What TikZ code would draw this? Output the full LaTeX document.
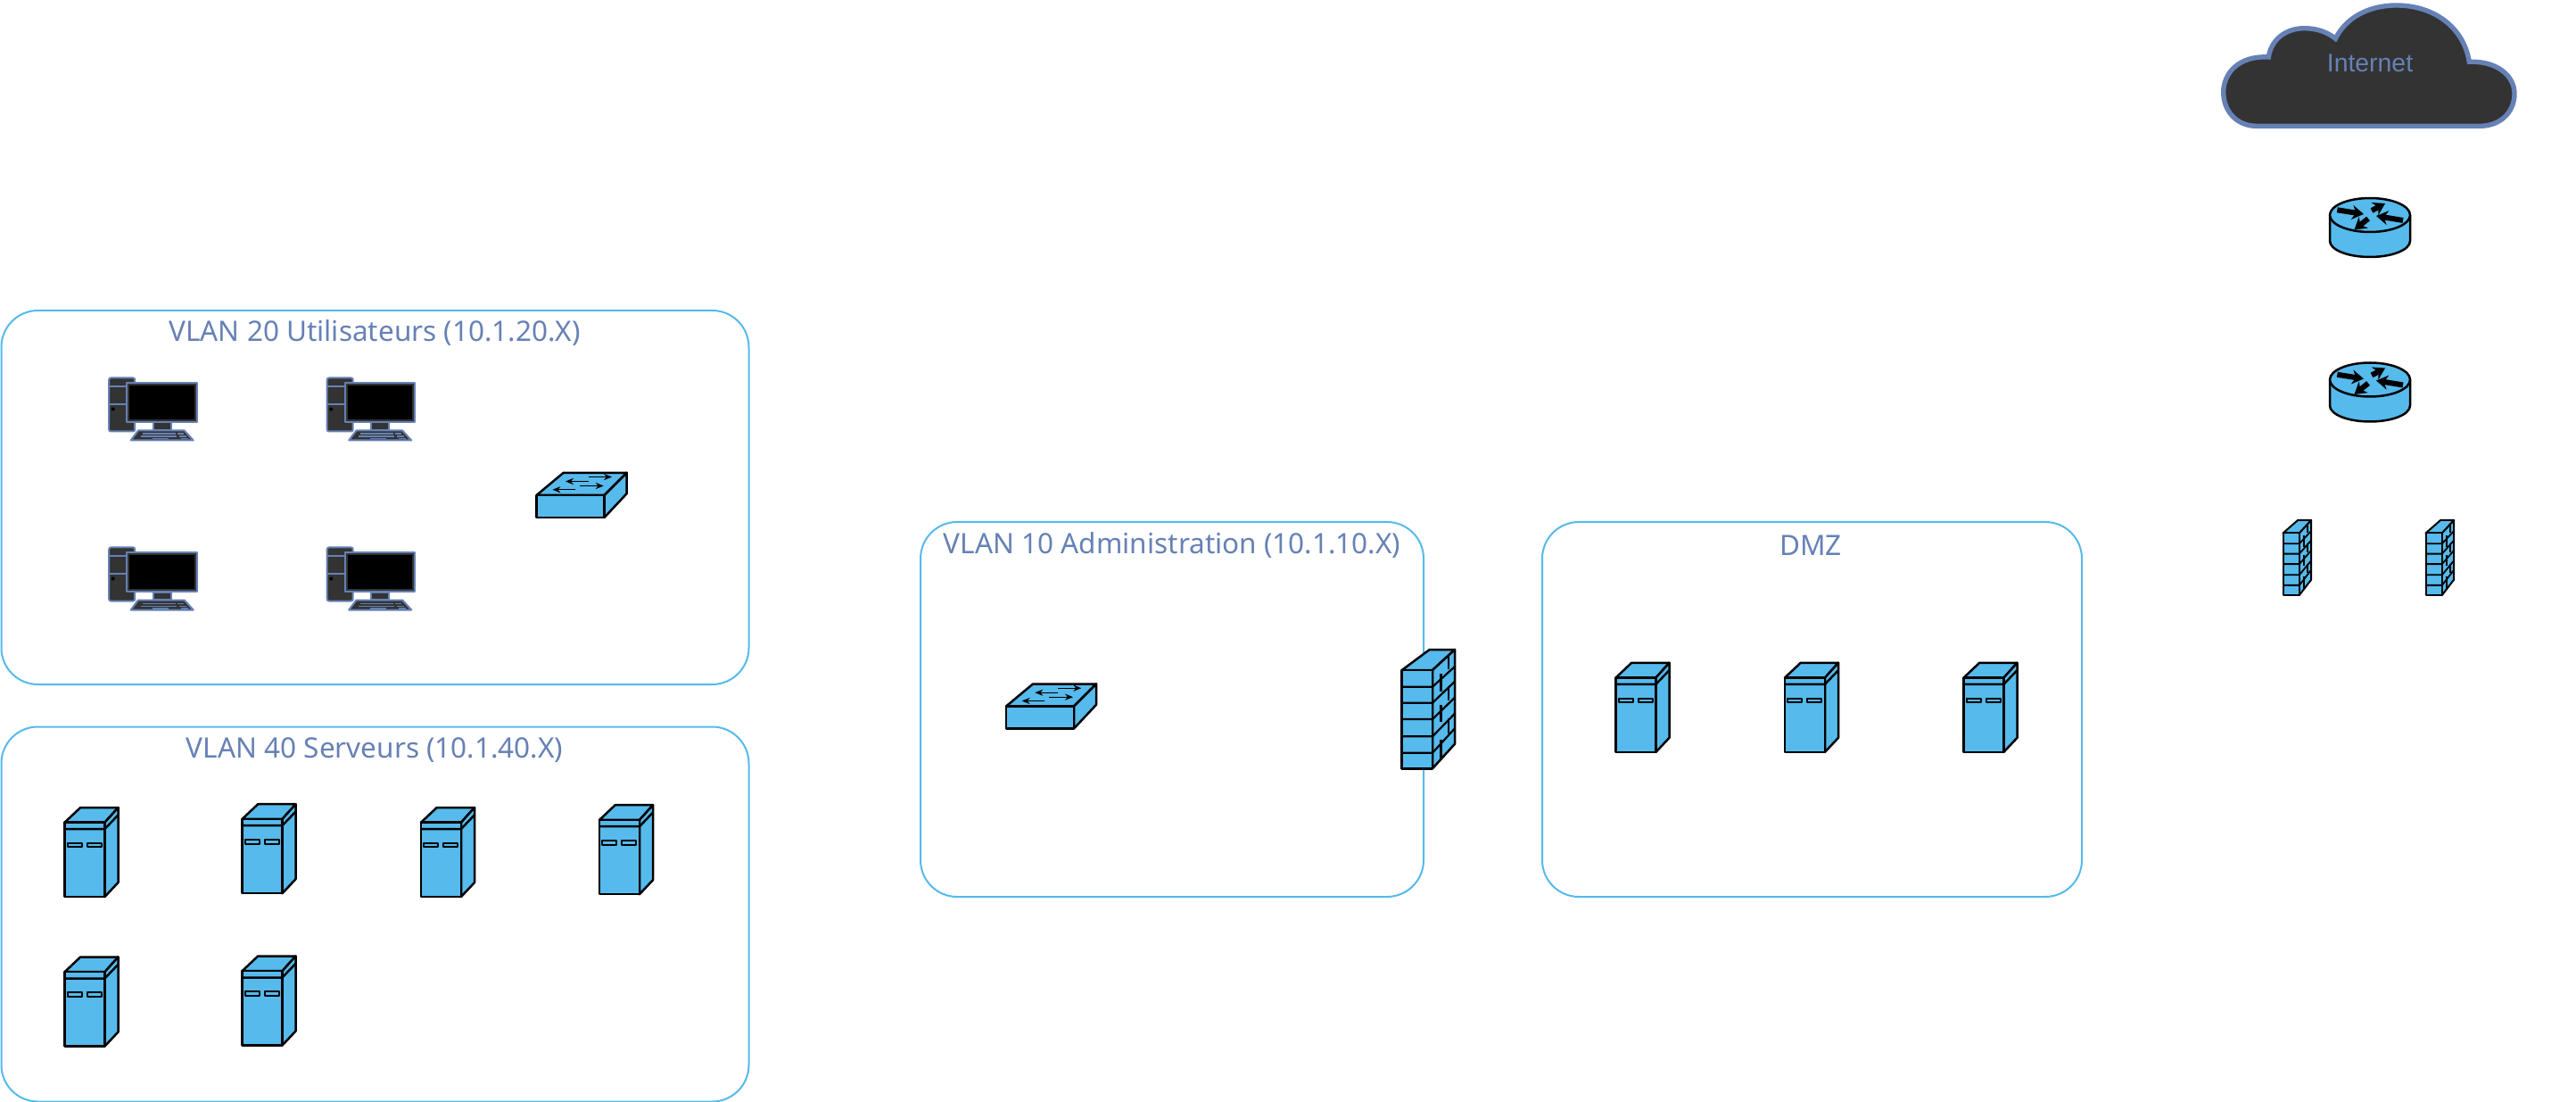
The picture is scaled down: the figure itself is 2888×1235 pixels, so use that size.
\documentclass[tikz,border=0pt]{standalone}
\usepackage{fontspec}
\setmainfont{Noto Sans}
\newfontfamily\arialfont{Liberation Sans}
\usetikzlibrary{arrows.meta}
\definecolor{zonecol}{HTML}{56BAEC}
\definecolor{iconfill}{HTML}{56BAEC}
\definecolor{slate}{HTML}{6681B5}
\definecolor{darkfill}{HTML}{333333}
\tikzset{
  x=0.5pt,y=-0.5pt,
  zone/.style={draw=zonecol,line width=1pt,rounded corners=20.5pt,fill=none,anchor=north west,inner sep=0pt,outer sep=0pt},
  zonelabel/.style={text=slate,font=\fontsize{15.75}{18}\selectfont,inner sep=0pt},
  icon/.style={draw=black,fill=iconfill,line width=1.25pt,line join=round},
  iconline/.style={draw=black,line width=1.25pt},
  brickline/.style={draw=black,line width=1.1pt},
  swarrow/.style={draw=black,line width=0.6pt,-{Stealth[length=4.5pt,width=3.6pt]}},
  rtarrow/.style={draw=black,line width=3pt,-{Stealth[length=6.5pt,width=8pt]}},
  pcline/.style={draw=slate,fill=darkfill,line width=1pt,line join=round},
  router/.pic={
    \path[icon] (0,19) -- (0,48) .. controls (0,58) and (20,66) .. (45,66) .. controls (70,66) and (90,58) .. (90,48) -- (90,19);
    \path[icon] (45,19) ellipse [x radius=45, y radius=19];
    \draw[rtarrow] (8.3,13.3) -- (38,18);
    \draw[rtarrow] (47,14) -- (62,6);
    \draw[rtarrow] (82,25) -- (52,20);
    \draw[rtarrow] (43,23) -- (27.5,35.5);
  },
  switchbox/.pic={
    \path[icon] (0,25) -- (30,0) -- (101,0) -- (76,25) -- cycle;
    \path[icon] (76,25) -- (101,0) -- (101,23.3) -- (76,50) -- cycle;
    \path[icon] (0,25) rectangle (76,50);
    \draw[swarrow] (58.3,4.7) -- (84.3,4.7);
    \draw[swarrow] (58.3,9.7) -- (32.3,9.7);
    \draw[swarrow] (48.3,14.7) -- (75,14.7);
    \draw[swarrow] (43.3,19) -- (17.7,19);
  },
  server/.pic={
    \path[icon] (0,16.7) -- (17.7,0) -- (60,0) -- (45,16.7) -- cycle;
    \path[icon] (45,16.7) -- (60,0) -- (60,84) -- (45,100) -- cycle;
    \path[icon] (0,16.7) rectangle (45,100);
    \draw[iconline] (0,24) -- (45,24) -- (60,8.3);
    \path[icon,line width=1pt] (3.3,39.7) rectangle (19.3,44.3);
    \path[icon,line width=1pt] (25,39.7) rectangle (41,44.3);
  },
  wall/.pic={
    \path[icon] (0,23) -- (31,0) -- (59.3,0) -- (34.3,23) -- cycle;
    \path[icon] (34.3,23) -- (59.3,0) -- (59.3,105.7) -- (34.3,133.3) -- cycle;
    \path[icon] (0,23) rectangle (34.3,133.3);
    \draw[brickline] (0,41.7) -- (34.3,41.7) -- (59.3,19);
    \draw[brickline] (0,59.7) -- (34.3,59.7) -- (59.3,35.7);
    \draw[brickline] (0,78) -- (34.3,78) -- (59.3,53.7);
    \draw[brickline] (0,97.3) -- (34.3,97.3) -- (59.3,71.7);
    \draw[brickline] (0,115.7) -- (34.3,115.7) -- (59.3,88.3);
    \draw[brickline] (52,5.7) -- (52,22.3);
    \draw[brickline] (43.7,27.3) -- (43.7,47.3);
    \draw[brickline] (52,40.7) -- (52,57.3);
    \draw[brickline] (43.7,62.3) -- (43.7,80.7);
    \draw[brickline] (52,77.3) -- (52,94);
    \draw[brickline] (43.7,100.7) -- (43.7,122.3);
  },
  smallwall/.style={xscale=0.534,yscale=0.63,icon/.append style={line width=1pt},brickline/.append style={line width=0.9pt}},
  pc/.pic={
    \path[pcline,rounded corners=1pt] (0.5,0) rectangle (29.5,60);
    \draw[slate,line width=1pt] (0.5,10) -- (20,10);
    \draw[slate,line width=1pt] (0.5,29.3) -- (20,29.3);
    \fill[black] (5,35) circle [radius=2];
    \path[pcline] (50,50) rectangle (70,58.3);
    \path[pcline] (20.5,5.5) rectangle (99,49.5);
    \fill[black] (23.5,8.5) rectangle (96,46.5);
    \path[pcline] (33.3,59) -- (85,59) -- (95,70) -- (25,70) -- cycle;
    \fill[slate] (38,62) rectangle (75,63.6);
    \fill[slate] (77,62) rectangle (84,63.6);
    \fill[slate] (36,65) rectangle (76,66.2);
    \fill[slate] (79,65) rectangle (87,66.2);
    \fill[slate] (49,67.3) rectangle (67,69);
    \fill[slate] (81,67.3) rectangle (89,69);
  },
}
\begin{document}
\begin{tikzpicture}
\useasboundingbox (0,0) rectangle (2888,1235);
% zones
\node[zone,minimum width=419pt,minimum height=209.5pt] (vlan20) at (1.5,348) {};
\node[zone,minimum width=419pt,minimum height=210pt] (vlan40) at (1.5,814.5) {};
\node[zone,minimum width=282pt,minimum height=210pt] (vlan10) at (1032,585) {};
\node[zone,minimum width=302.5pt,minimum height=210pt] (dmz) at (1729,585) {};
\node[zonelabel] (l20) at (420,373.5) {VLAN 20 Utilisateurs (10.1.20.X)};
\node[zonelabel] (l40) at (420,841) {VLAN 40 Serveurs (10.1.40.X)};
\node[zonelabel] (l10) at (1314,611) {VLAN 10 Administration (10.1.10.X)};
\node[zonelabel] (ldmz) at (2030,611) {DMZ};
% cloud
\draw[draw=slate,fill=darkfill,line width=2.7pt,line join=miter]
  (2543.3,64) .. controls (2510,62) and (2492.7,82) .. (2492.7,103.3)
  .. controls (2492.7,125) and (2508,141.3) .. (2530,141.3)
  -- (2780,141.3)
  .. controls (2803,141.3) and (2819,126) .. (2819,105)
  .. controls (2819,84) and (2798,68) .. (2768.3,69.3)
  .. controls (2762,30) and (2728,6) .. (2686.7,6)
  .. controls (2655,6) and (2630,20) .. (2618.3,43.3)
  .. controls (2608,35) and (2596,31.7) .. (2583.3,31.7)
  .. controls (2562,31.7) and (2546,45) .. (2543.3,64) -- cycle;
\node[text=slate,font=\arialfont\fontsize{14.2}{16}\selectfont,inner sep=0pt] (internet) at (2657,71) {Internet};
% routers
\pic (r1) at (2612,222) {router};
\pic (r2) at (2612,406.5) {router};
% small firewalls
\pic[smallwall] (fw1) at (2559.5,583) {wall};
\pic[smallwall] (fw2) at (2719.5,583) {wall};
% large firewall
\pic (fw3) at (1571.7,728) {wall};
% switches
\pic (sw1) at (601.7,529.8) {switchbox};
\pic (sw2) at (1128,766.5) {switchbox};
% PCs
\pic (pc1) at (121.7,423.5) {pc};
\pic (pc2) at (366.2,423.5) {pc};
\pic (pc3) at (121.7,613.5) {pc};
\pic (pc4) at (366.2,613.5) {pc};
% servers
\pic (s1) at (72.5,905) {server};
\pic (s2) at (271.5,901.2) {server};
\pic (s3) at (472,905) {server};
\pic (s4) at (672,902.2) {server};
\pic (s5) at (72.5,1072.5) {server};
\pic (s6) at (271.5,1071.5) {server};
\pic (d1) at (1811.5,742.8) {server};
\pic (d2) at (2001,742.8) {server};
\pic (d3) at (2201.5,742.8) {server};
\end{tikzpicture}
\end{document}
